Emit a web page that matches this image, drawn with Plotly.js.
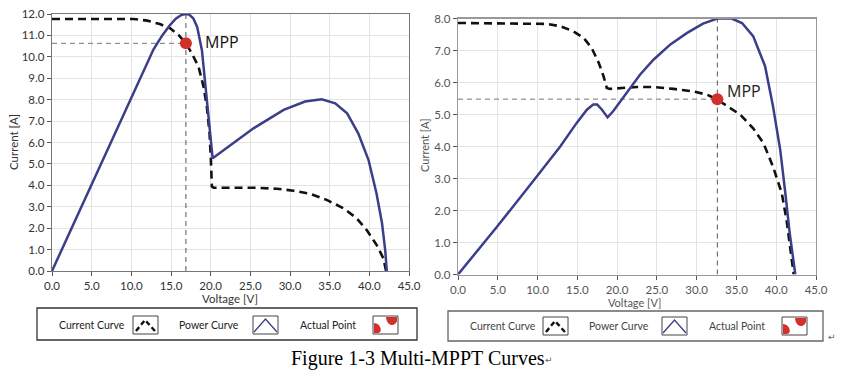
<!DOCTYPE html>
<html>
<head>
<meta charset="utf-8">
<script src="https://cdn.plot.ly/plotly-3.0.1.min.js"></script>
<style>
  html, body { margin: 0; padding: 0; background: #fff; }
  #chart { width: 843px; height: 383px; }
</style>
</head>
<body>
<div id="chart"></div>
<script>
// ---------- Data ----------
// Left chart: current curve (I-V)
const leftCurrentV = [0, 10.3, 12.0, 13.6, 14.9, 15.95, 16.88, 17.63, 18.47, 19.1, 19.52, 19.86, 20.03, 20.15, 20.36, 25.4, 28.34, 30.44, 32.54, 34.63, 36.73, 38.41, 39.67, 40.93, 41.77, 42.11];
const leftCurrentI = [11.77, 11.77, 11.69, 11.53, 11.33, 11.02, 10.63, 10.16, 9.54, 8.61, 7.67, 6.43, 5.18, 3.94, 3.89, 3.89, 3.84, 3.75, 3.6, 3.32, 2.93, 2.46, 1.91, 1.21, 0.59, 0.0];
// Left chart: power curve (scaled)
const leftPowerV = [0, 8.6, 12.8, 13.9, 14.8, 15.6, 16.3, 16.8, 17.3, 17.8, 18.3, 18.9, 19.3, 19.7, 20.0, 20.25, 25.4, 29.2, 31.9, 34.0, 35.7, 37.2, 38.6, 39.9, 40.9, 41.6, 42.0, 42.2];
const leftPowerP = [0, 6.97, 10.35, 11.0, 11.45, 11.78, 11.95, 12.0, 11.97, 11.8, 11.4, 10.3, 8.76, 7.2, 5.96, 5.26, 6.66, 7.52, 7.91, 8.02, 7.83, 7.36, 6.43, 5.18, 3.63, 2.23, 0.98, 0.0];
const leftMPP = [16.88, 10.63];

// Right chart: current curve (I-V)
const rightCurrentV = [0, 11.2, 12.85, 14.5, 15.8, 16.8, 17.7, 18.3, 18.7, 19.1, 22.5, 24.6, 27.1, 29.6, 31.3, 32.5, 33.8, 35.5, 37.1, 38.4, 39.6, 40.7, 41.3, 41.7, 42.2];
const rightCurrentI = [7.86, 7.83, 7.76, 7.6, 7.39, 7.08, 6.61, 6.19, 5.83, 5.8, 5.86, 5.86, 5.8, 5.72, 5.62, 5.48, 5.27, 4.99, 4.57, 4.1, 3.37, 2.54, 1.7, 0.87, 0.0];
// Right chart: power curve (scaled)
const rightPowerV = [0, 4.9, 9.9, 12.85, 14.9, 16.2, 17.0, 17.5, 18.1, 18.8, 19.5, 21.2, 22.9, 24.6, 26.7, 28.8, 30.8, 32.5, 32.9, 34.4, 35.7, 37.1, 38.6, 39.6, 40.5, 41.1, 41.7, 42.4];
const rightPowerP = [0, 1.49, 3.06, 4.0, 4.73, 5.15, 5.31, 5.31, 5.15, 4.91, 5.1, 5.67, 6.25, 6.72, 7.19, 7.55, 7.84, 7.99, 8.0, 8.0, 7.86, 7.45, 6.51, 5.25, 3.9, 2.64, 1.28, 0.0];
const rightMPP = [32.6, 5.48];

// Tick labels
const xTicks = [0, 5, 10, 15, 20, 25, 30, 35, 40, 45];
const leftYTicks = [0, 1, 2, 3, 4, 5, 6, 7, 8, 9, 10, 11, 12];
const rightYTicks = [0, 1, 2, 3, 4, 5, 6, 7, 8];
const legendLabels = ['Current Curve', 'Power Curve', 'Actual Point'];
const captionText = 'Figure 1-3 Multi-MPPT Curves';

// ---------- Layout helpers ----------
const W = 843, H = 383;
const px = x => x / W;
const py = y => 1 - y / H;
const NAVY = '#3b3e88';
const RED = '#d3302c';
const FONT = 'Lato, Open Sans, sans-serif';

const fmt = v => v.toFixed(1);

function currentTrace(x, y, xa, ya) {
  return {x, y, xaxis: xa, yaxis: ya, mode: 'lines', type: 'scatter',
    line: {color: '#111', width: 2.6, dash: '8px,5px'}, hoverinfo: 'skip', showlegend: false};
}
function powerTrace(x, y, xa, ya) {
  return {x, y, xaxis: xa, yaxis: ya, mode: 'lines', type: 'scatter',
    line: {color: NAVY, width: 2.5}, hoverinfo: 'skip', showlegend: false};
}
function refTraces(mpp, ymax, xa, ya) {
  return [
    {x: [0, mpp[0]], y: [mpp[1], mpp[1]], xaxis: xa, yaxis: ya, mode: 'lines', type: 'scatter',
      line: {color: '#777', width: 1, dash: '5px,4px'}, hoverinfo: 'skip', showlegend: false},
    {x: [mpp[0], mpp[0]], y: [0, ymax], xaxis: xa, yaxis: ya, mode: 'lines', type: 'scatter',
      line: {color: '#555', width: 1, dash: '5px,4px'}, hoverinfo: 'skip', showlegend: false}
  ];
}
function mppTrace(mpp, xa, ya) {
  return {x: [mpp[0]], y: [mpp[1]], xaxis: xa, yaxis: ya, mode: 'markers', type: 'scatter',
    marker: {color: RED, size: 12}, hoverinfo: 'skip', showlegend: false};
}

const data = [
  ...refTraces(leftMPP, 12, 'x', 'y'),
  currentTrace(leftCurrentV, leftCurrentI, 'x', 'y'),
  powerTrace(leftPowerV, leftPowerP, 'x', 'y'),
  mppTrace(leftMPP, 'x', 'y'),
  ...refTraces(rightMPP, 8, 'x2', 'y2'),
  currentTrace(rightCurrentV, rightCurrentI, 'x2', 'y2'),
  powerTrace(rightPowerV, rightPowerP, 'x2', 'y2'),
  mppTrace(rightMPP, 'x2', 'y2')
];

function xAxis(domain, anchor, color, lineColor) {
  return {domain, anchor, range: [0, 45], tickmode: 'array', tickvals: xTicks, ticktext: xTicks.map(fmt),
    showgrid: true, gridcolor: '#e3e3e3', gridwidth: 1, zeroline: false,
    showline: true, mirror: true, linecolor: lineColor, linewidth: 1.3,
    ticks: 'outside', ticklen: 4, tickcolor: '#555', tickwidth: 1,
    tickfont: {family: FONT, size: 11.5, color}, fixedrange: true};
}
function yAxis(domain, anchor, ticks, max, color, lineColor) {
  return {domain, anchor, range: [0, max], tickmode: 'array', tickvals: ticks, ticktext: ticks.map(fmt),
    showgrid: true, gridcolor: '#e3e3e3', gridwidth: 1, zeroline: false,
    showline: true, mirror: true, linecolor: lineColor, linewidth: 1.3,
    ticks: 'outside', ticklen: 4, tickcolor: '#555', tickwidth: 1,
    tickfont: {family: FONT, size: 11.5, color}, fixedrange: true};
}

const annotations = [
  // axis titles
  {text: 'Voltage [V]', x: px(230), y: py(298), xref: 'paper', yref: 'paper', showarrow: false,
    font: {family: FONT, size: 11.5, color: '#333'}, xanchor: 'center', yanchor: 'middle'},
  {text: 'Current [A]', x: px(13), y: py(142), xref: 'paper', yref: 'paper', showarrow: false, textangle: -90,
    font: {family: FONT, size: 11.5, color: '#333'}, xanchor: 'center', yanchor: 'middle'},
  {text: 'Voltage [V]', x: px(635), y: py(302), xref: 'paper', yref: 'paper', showarrow: false,
    font: {family: FONT, size: 11, color: '#555'}, xanchor: 'center', yanchor: 'middle'},
  {text: 'Current [A]', x: px(424), y: py(145), xref: 'paper', yref: 'paper', showarrow: false, textangle: -90,
    font: {family: FONT, size: 11, color: '#555'}, xanchor: 'center', yanchor: 'middle'},
  // MPP labels
  {text: 'MPP', x: leftMPP[0], y: leftMPP[1], xref: 'x', yref: 'y', showarrow: false, xanchor: 'left', yanchor: 'middle',
    xshift: 17, yshift: 1, font: {family: 'Open Sans, sans-serif', size: 16, color: '#111'}},
  {text: 'MPP', x: rightMPP[0], y: rightMPP[1], xref: 'x2', yref: 'y2', showarrow: false, xanchor: 'left', yanchor: 'middle',
    xshift: 8, yshift: 8, font: {family: 'Open Sans, sans-serif', size: 16, color: '#222'}},
  // caption
  {text: captionText, x: px(289), y: py(358), xref: 'paper', yref: 'paper', showarrow: false, xanchor: 'left', yanchor: 'middle',
    font: {family: 'Liberation Serif, Times New Roman, serif', size: 20, color: '#000'}},
  {text: '↵', x: px(543), y: py(360), xref: 'paper', yref: 'paper', showarrow: false, xanchor: 'left', yanchor: 'middle',
    font: {family: 'DejaVu Sans, sans-serif', size: 9, color: '#666'}},
  {text: '↵', x: px(826), y: py(337), xref: 'paper', yref: 'paper', showarrow: false, xanchor: 'left', yanchor: 'middle',
    font: {family: 'DejaVu Sans, sans-serif', size: 9, color: '#666'}}
];

const shapes = [];

function legendBlock(box, textX, iconX, yMid, textColor, borderColor, fontSize) {
  shapes.push({type: 'rect', xref: 'paper', yref: 'paper', x0: px(box[0]), x1: px(box[1]), y0: py(box[2]), y1: py(box[3]),
    line: {color: borderColor, width: 1.3}, fillcolor: 'rgba(0,0,0,0)'});
  legendLabels.forEach((lab, i) => {
    annotations.push({text: lab, x: px(textX[i]), y: py(yMid), xref: 'paper', yref: 'paper', showarrow: false,
      xanchor: 'left', yanchor: 'middle', font: {family: FONT, size: fontSize, color: textColor}});
  });
  const t = yMid - 9, b = yMid + 9;
  iconX.forEach(ix => {
    shapes.push({type: 'rect', xref: 'paper', yref: 'paper', x0: px(ix), x1: px(ix + 25), y0: py(t), y1: py(b),
      line: {color: '#444', width: 1}, fillcolor: 'rgba(0,0,0,0)'});
  });
  let ix = iconX[0];
  shapes.push({type: 'path', xref: 'paper', yref: 'paper',
    path: `M ${px(ix + 3)},${py(b - 3)} L ${px(ix + 12)},${py(t + 4)} L ${px(ix + 22)},${py(b - 3)}`,
    line: {color: '#111', width: 2.4, dash: '5px,3px'}});
  ix = iconX[1];
  shapes.push({type: 'path', xref: 'paper', yref: 'paper',
    path: `M ${px(ix + 1)},${py(b - 2)} L ${px(ix + 12.5)},${py(t + 3)} L ${px(ix + 24)},${py(b - 2)}`,
    line: {color: NAVY, width: 1.3}});
  ix = iconX[2];
  shapes.push({type: 'path', xref: 'paper', yref: 'paper',
    path: `M ${px(ix + 1)},${py(t + 7)} C ${px(ix + 8)},${py(t + 7)} ${px(ix + 10)},${py(b - 1)} ${px(ix + 5)},${py(b - 1)} L ${px(ix + 1)},${py(b - 1)} Z`,
    line: {width: 0}, fillcolor: RED});
  shapes.push({type: 'path', xref: 'paper', yref: 'paper',
    path: `M ${px(ix + 13)},${py(t + 1)} L ${px(ix + 24)},${py(t + 1)} L ${px(ix + 24)},${py(t + 5)} C ${px(ix + 22)},${py(t + 11)} ${px(ix + 14)},${py(t + 11)} ${px(ix + 13)},${py(t + 1)} Z`,
    line: {width: 0}, fillcolor: RED});
}

legendBlock([37, 417, 308, 340], [57, 177, 298], [133, 253, 373], 325, '#222', '#333', 10.5);
legendBlock([448, 823, 311, 341], [468, 587, 707], [543, 662, 782], 326, '#444', '#666', 10.5);

const layout = {
  width: W, height: H,
  margin: {l: 0, r: 0, t: 0, b: 0},
  paper_bgcolor: '#fff', plot_bgcolor: '#fff',
  showlegend: false,
  xaxis: xAxis([px(52), px(409)], 'y', '#333', '#777'),
  yaxis: yAxis([py(271), py(14)], 'x', leftYTicks, 12, '#333', '#777'),
  xaxis2: xAxis([px(458), px(816)], 'y2', '#555', '#999'),
  yaxis2: yAxis([py(274.5), py(18.5)], 'x2', rightYTicks, 8, '#555', '#999'),
  annotations, shapes
};

Plotly.newPlot('chart', data, layout, {displayModeBar: false, staticPlot: true});
</script>
</body>
</html>
